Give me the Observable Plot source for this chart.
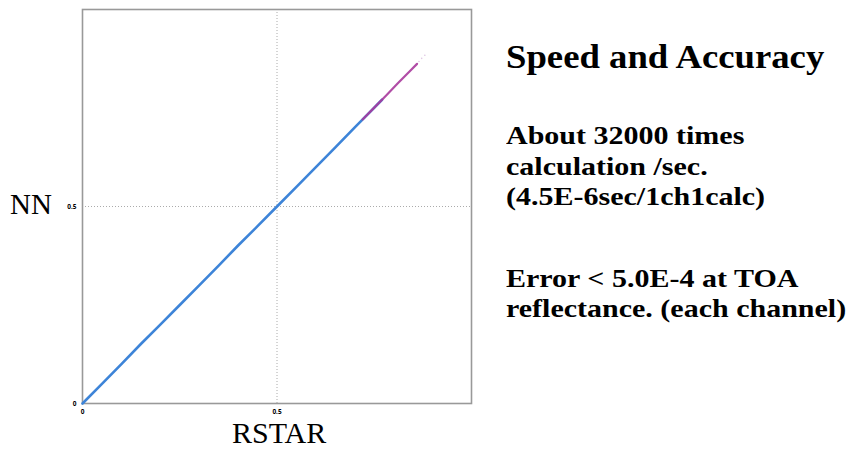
<!DOCTYPE html>
<html>
<head>
<meta charset="utf-8">
<script src="https://cdn.jsdelivr.net/npm/d3@7"></script>
<script src="https://cdn.jsdelivr.net/npm/@observablehq/plot@0.6"></script>
<style>
  html, body { margin: 0; padding: 0; background: #fff; }
  #wrap { position: relative; width: 853px; height: 449px; overflow: hidden; }
  .t { position: absolute; font-family: "Liberation Serif", "Times New Roman", serif; color: #000; white-space: nowrap; line-height: 1; transform-origin: 0 0; }
  .b { font-weight: bold; }
</style>
</head>
<body>
<div id="wrap"></div>
<script>
// Tick values
const xTicks = [0, 0.5];
const yTicks = [0, 0.5];

// Blue series (RSTAR vs NN)
const blueRstar = [0.000, 0.050, 0.100, 0.150, 0.200, 0.250, 0.300, 0.350, 0.400, 0.450, 0.500, 0.550, 0.600, 0.650, 0.700, 0.740, 0.770];
const blueNN    = [0.000, 0.050, 0.100, 0.151, 0.200, 0.250, 0.300, 0.350, 0.401, 0.450, 0.500, 0.550, 0.600, 0.650, 0.701, 0.741, 0.771];

// Purple series (upper end of the cloud)
const purpleRstar = [0.720, 0.750, 0.780, 0.810, 0.840, 0.860];
const purpleNN    = [0.721, 0.751, 0.781, 0.812, 0.842, 0.862];

// Faint outlying points near the top
const faintRstar = [0.865, 0.872, 0.880];
const faintNN    = [0.868, 0.876, 0.884];

const blue = blueRstar.map((x, i) => ({x, y: blueNN[i]}));
const purple = purpleRstar.map((x, i) => ({x, y: purpleNN[i]}));
const faint = faintRstar.map((x, i) => ({x, y: faintNN[i]}));

const plot = Plot.plot({
  width: 853,
  height: 449,
  marginLeft: 82,
  marginRight: 382,
  marginTop: 9,
  marginBottom: 46,
  x: {domain: [0, 1]},
  y: {domain: [0, 1]},
  style: {background: "transparent"},
  marks: [
    Plot.gridX(xTicks.filter(d => d > 0), {stroke: "#888", strokeOpacity: 0.7, strokeDasharray: "1,2"}),
    Plot.gridY(yTicks.filter(d => d > 0), {stroke: "#888", strokeOpacity: 0.7, strokeDasharray: "1,2"}),
    Plot.axisX({ticks: xTicks, tickSize: 0, tickPadding: 6, fontSize: 6.5, fontWeight: "bold", label: null, tickFormat: d => d === 0 ? "0" : String(d)}),
    Plot.axisY({ticks: yTicks, tickSize: 0, tickPadding: 6, fontSize: 6.5, fontWeight: "bold", label: null, tickFormat: d => d === 0 ? "0" : String(d)}),
    Plot.frame({stroke: "#999", strokeWidth: 1.6}),
    Plot.line(blue, {x: "x", y: "y", stroke: "#3d84d8", strokeWidth: 2.6}),
    Plot.line(purple, {x: "x", y: "y", stroke: "#a83a9c", strokeWidth: 2.2, strokeOpacity: 0.9}),
    Plot.dot(faint, {x: "x", y: "y", r: 0.8, fill: "#c9a0d0", fillOpacity: 0.6})
  ]
});

const wrap = document.getElementById("wrap");
wrap.appendChild(plot);

function addText(txt, x, y, size, bold, sx) {
  const d = document.createElement("div");
  d.className = "t" + (bold ? " b" : "");
  d.textContent = txt;
  d.style.left = x + "px";
  d.style.top = y + "px";
  d.style.fontSize = size + "px";
  if (sx) d.style.transform = "scaleX(" + sx + ")";
  wrap.appendChild(d);
  return d;
}

addText("NN", 10, 190, 29, false);
addText("RSTAR", 232, 418, 30, false);
addText("Speed and Accuracy", 506, 40, 34, true, 1.08);
addText("About 32000 times", 506, 123, 25, true, 1.2);
addText("calculation /sec.", 506, 154, 25, true, 1.2);
addText("(4.5E-6sec/1ch1calc)", 506, 184, 25, true, 1.2);
addText("Error < 5.0E-4 at TOA", 506, 266, 25, true, 1.2);
addText("reflectance. (each channel)", 506, 296, 25, true, 1.2);
</script>
</body>
</html>
